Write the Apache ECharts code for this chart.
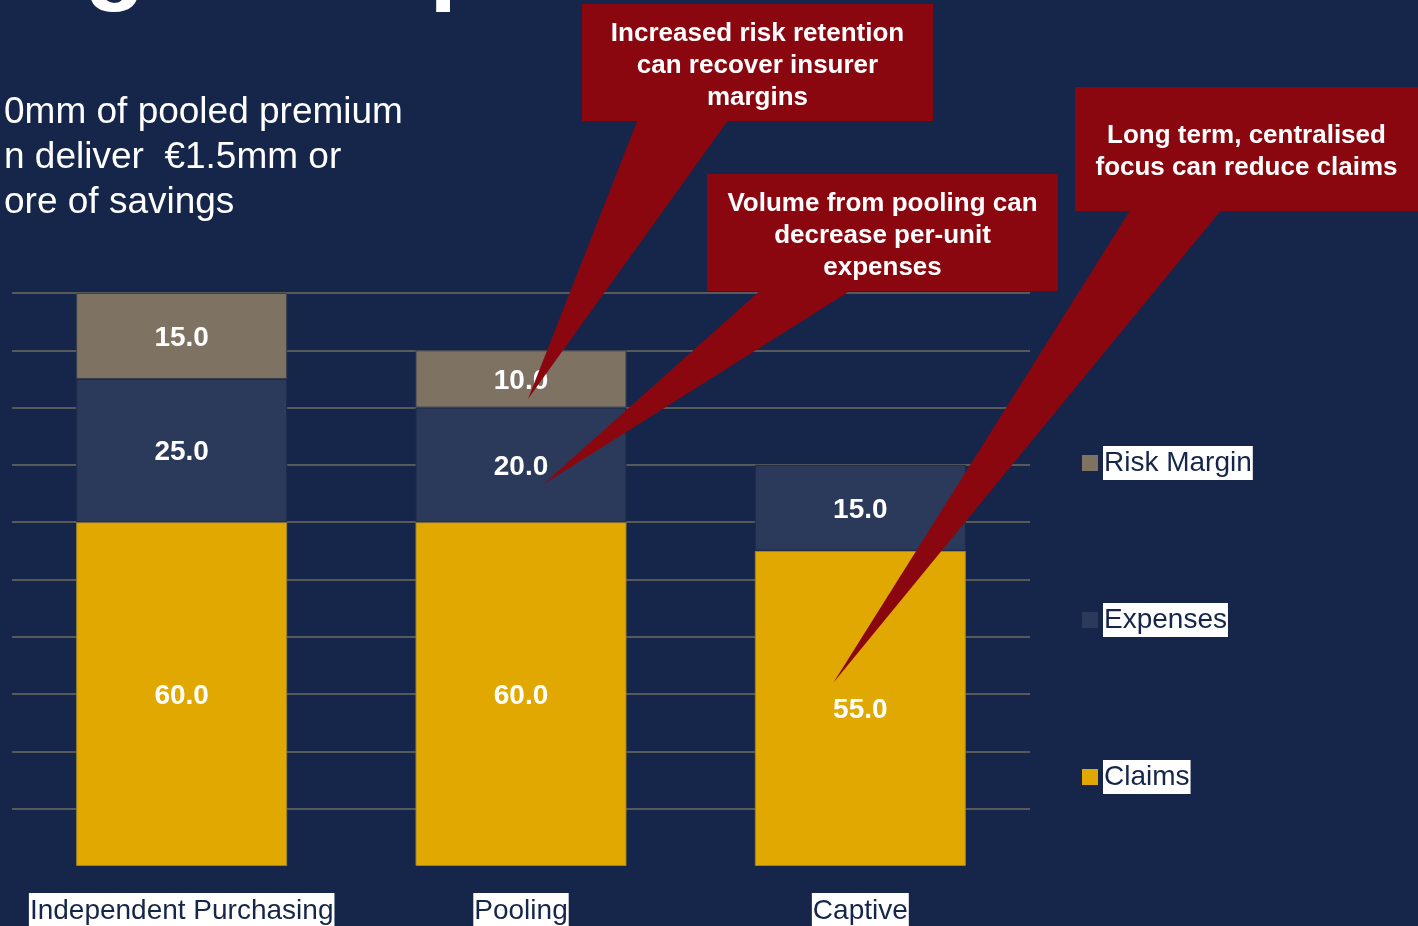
<!DOCTYPE html>
<html>
<head>
<meta charset="utf-8">
<script src="https://cdn.jsdelivr.net/npm/echarts@6/dist/echarts.min.js"></script>
<style>
html,body{margin:0;padding:0;background:#15264a;}
#chart{width:1418px;height:926px;}
</style>
</head>
<body>
<div id="chart"></div>
<script>
// ---- data ----
const categories = ['Independent Purchasing', 'Pooling', 'Captive'];
const claims = [60, 60, 55];
const expenses = [25, 20, 15];
const riskMargin = [15, 10, 0];
const legendNames = ['Risk Margin', 'Expenses', 'Claims'];
const yTicks = { min: 0, max: 100, interval: 10 };

const titleText = 'Pooling example';
const subtitleLines = ['0mm of pooled premium', 'n deliver  \u20ac1.5mm or', 'ore of savings'];

// callouts: text, box (layout), pointer base at box bottom, tip anchored to data [category, value] + px offset
const callouts = [
  { text: 'Increased risk retention\ncan recover insurer\nmargins', box: [582, 4, 351, 117], base: [638, 729], tipCat: 1, tipVal: 81.5, tipDx: 7 },
  { text: 'Volume from pooling can\ndecrease per-unit\nexpenses', box: [707, 174, 351, 117], base: [762, 853], tipCat: 1, tipVal: 66.6, tipDx: 22 },
  { text: 'Long term, centralised\nfocus can reduce claims', box: [1075, 87, 343, 124], base: [1131, 1222], tipCat: 2, tipVal: 32, tipDx: -27 }
];

const colors = { claims: '#e0a800', expenses: '#2b3a5a', risk: '#7e7262', bg: '#15264a', callout: '#8b0710' };
const FONT = '"Liberation Sans", Arial, sans-serif';

const chart = echarts.init(document.getElementById('chart'));

function barLabel() {
  return {
    show: true, position: 'inside', offset: [0, 2], color: '#ffffff', fontFamily: FONT, fontWeight: 'bold', fontSize: 28,
    formatter: p => (p.value ? Number(p.value).toFixed(1) : '')
  };
}

const option = {
  backgroundColor: colors.bg,
  animation: false,
  grid: { left: 12, right: 388, top: 293, bottom: 60, containLabel: false },
  legend: {
    orient: 'vertical', left: 1082, top: 446, itemGap: 123, padding: 0,
    itemWidth: 16, itemHeight: 16, icon: 'rect',
    itemStyle: { borderWidth: 0 },
    data: legendNames,
    textStyle: { color: '#15264a', fontFamily: FONT, fontSize: 28, backgroundColor: '#ffffff', padding: [3, 1, 1, 1], lineHeight: 30 }
  },
  xAxis: {
    type: 'category', data: categories,
    axisLine: { show: false }, axisTick: { show: false },
    axisLabel: { color: '#15264a', fontFamily: FONT, fontSize: 28, backgroundColor: '#ffffff', padding: [4, 1, 1, 1], margin: 27, interval: 0 }
  },
  yAxis: {
    type: 'value', min: yTicks.min, max: yTicks.max, interval: yTicks.interval,
    axisLabel: { show: false }, axisLine: { show: false }, axisTick: { show: false },
    splitLine: { show: true, showMinLine: false, lineStyle: { color: '#6f6b5f', width: 1.5 } }
  },
  series: [
    { name: 'Claims', type: 'bar', stack: 'total', data: claims, barWidth: 211,
      itemStyle: { color: colors.claims, borderColor: '#9a8233', borderWidth: 1 }, label: barLabel() },
    { name: 'Expenses', type: 'bar', stack: 'total', data: expenses,
      itemStyle: { color: colors.expenses, borderColor: '#1d2b4b', borderWidth: 1 }, label: barLabel() },
    { name: 'Risk Margin', type: 'bar', stack: 'total', data: riskMargin.map(v => v === 0 ? null : v),
      itemStyle: { color: colors.risk, borderColor: '#3a3f4c', borderWidth: 1 }, label: barLabel() }
  ]
};
chart.setOption(option);

// ---- annotations ----
const graphics = [];
graphics.push({
  type: 'text', x: -221, y: -37, z: 100,
  style: { text: titleText, fill: '#ffffff', font: 'bold 100px ' + FONT, verticalAlign: 'middle', align: 'left' }
});
graphics.push({
  type: 'text', x: 4, y: 90.5, z: 100,
  style: { text: subtitleLines.join('\n'), fill: '#ffffff', font: '37px ' + FONT, lineHeight: 45, verticalAlign: 'top', align: 'left' }
});
callouts.forEach(c => {
  const p = chart.convertToPixel({ gridIndex: 0 }, [c.tipCat, c.tipVal]);
  const tip = [p[0] + c.tipDx, p[1]];
  const by = c.box[1] + c.box[3];
  graphics.push({
    type: 'polygon', z: 100,
    shape: { points: [[c.base[0], by - 2], [c.base[1], by - 2], tip] },
    style: { fill: colors.callout }
  });
  graphics.push({
    type: 'rect', z: 100,
    shape: { x: c.box[0], y: c.box[1], width: c.box[2], height: c.box[3] },
    style: { fill: colors.callout }
  });
  graphics.push({
    type: 'text', z: 101, x: c.box[0] + c.box[2] / 2, y: c.box[1] + c.box[3] / 2 + 3,
    style: { text: c.text, fill: '#ffffff', font: 'bold 26px ' + FONT, lineHeight: 32, align: 'center', verticalAlign: 'middle' }
  });
});
chart.setOption({ graphic: graphics });
</script>
</body>
</html>
